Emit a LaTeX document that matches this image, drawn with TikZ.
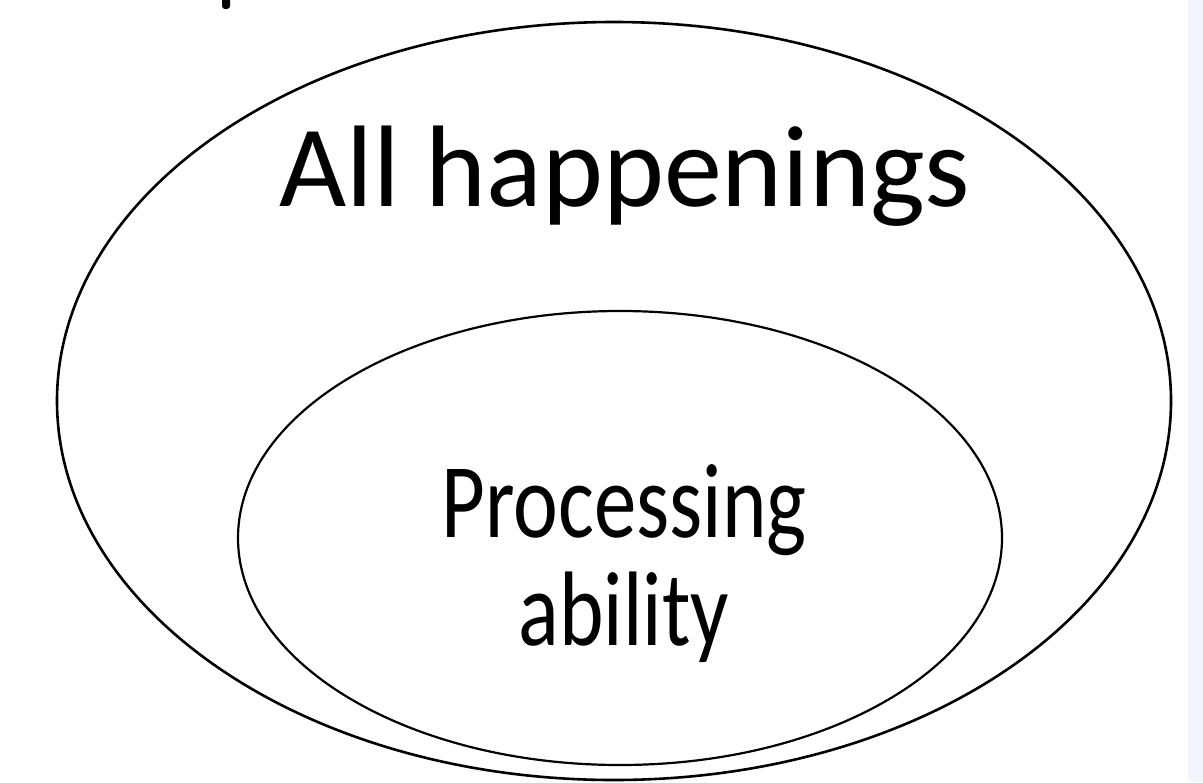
\documentclass[tikz,border=0pt]{standalone}
\usepackage{fontspec}
\setmainfont{Carlito}
\newfontfamily\narrowfont[FakeStretch=0.8]{Carlito}
\usepackage{xcolor}
\usetikzlibrary{shapes,positioning}

\definecolor{stripblue}{RGB}{242,245,252}

\begin{document}
\begin{tikzpicture}[x=0.5pt, y=-0.5pt]
				\useasboundingbox (0,0) rectangle (1203,782);
				\clip (0,0) rectangle (1203,782);
				\fill[white] (0,0) rectangle (1188,782);
				\fill[stripblue] (1188,0) rectangle (1203,782);
				% cut-off letter at the top
				\fill[rounded corners=1.5pt] (222,-6) rectangle (230,9);

				\node[draw, ellipse, line width=1.3pt, minimum width=557pt, minimum height=379pt, inner sep=0] (world) at (614,401) {};
				\node[draw, ellipse, line width=1.1pt, minimum width=382pt, minimum height=227pt, inner sep=0] (mind) at (620,538) {};

				\node[anchor=base, font=\fontsize{58}{70}\selectfont] (allhap) at (625,206) {All happenings};
				\node[anchor=base, align=center, font=\narrowfont\fontsize{53}{54}\selectfont] (procab) at (624,645) {Processing\\ability};
\end{tikzpicture}
\end{document}
